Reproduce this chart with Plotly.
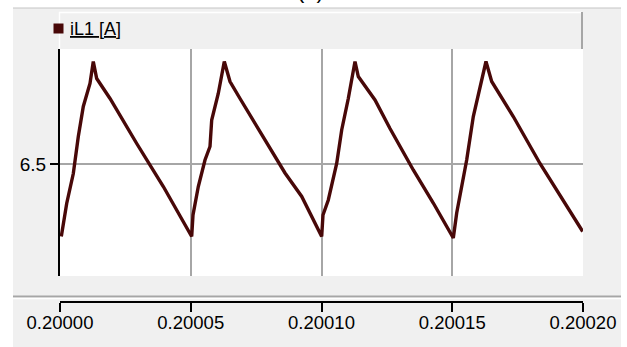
import plotly.graph_objects as go

W, H = 627, 347

# ---- data (time offsets in microseconds after t0 = 0.2 s, current in A) ----
T0 = 0.2
cycle1_us = [0.50, 2.56, 5.09, 7.00, 8.91, 11.47, 12.73, 14.03, 19.12, 29.33, 39.51, 45.89, 50.36]
cycle1_a = [6.355, 6.421, 6.481, 6.555, 6.615, 6.661, 6.705, 6.671, 6.631, 6.541, 6.455, 6.395, 6.355]
cycle2_us = [50.86, 52.89, 55.45, 57.36, 58.01, 60.53, 62.83, 65.01, 68.83, 73.80, 80.95, 86.04, 92.43, 100.07]
cycle2_a = [6.398, 6.455, 6.508, 6.535, 6.588, 6.641, 6.705, 6.665, 6.631, 6.588, 6.528, 6.482, 6.435, 6.355]
cycle3_us = [100.57, 102.60, 105.81, 107.72, 110.25, 112.81, 114.07, 120.46, 126.19, 135.10, 142.75, 150.40]
cycle3_a = [6.398, 6.428, 6.501, 6.568, 6.631, 6.705, 6.675, 6.628, 6.571, 6.488, 6.422, 6.352]
cycle4_us = [151.70, 155.52, 158.05, 162.90, 165.08, 173.34, 183.55, 192.46, 199.88]
cycle4_a = [6.402, 6.508, 6.595, 6.705, 6.665, 6.595, 6.501, 6.428, 6.365]

x_tickvals = [0.20000, 0.20005, 0.20010, 0.20015, 0.20020]
x_ticktext = ["0.20000", "0.20005", "0.20010", "0.20015", "0.20020"]
y_tickvals = [6.5]
y_ticktext = ["6.5"]
x_range = [0.20000, 0.20020]
y_range = [6.276, 6.730]
series_name = "iL1 [A]"

t_all = [T0 + u * 1e-6 for u in cycle1_us + cycle2_us + cycle3_us + cycle4_us]
i_all = cycle1_a + cycle2_a + cycle3_a + cycle4_a

LINE = "#480808"
GRID = "#a6a6a6"
PANEL = "#f0f0f0"
FONT = "Liberation Sans, Arial"


def px(x):
    return x / W


def py(y):
    return 1 - y / H


fig = go.Figure()
fig.add_trace(go.Scatter(x=t_all, y=i_all, mode="lines",
                         line=dict(color=LINE, width=3.4), showlegend=False,
                         xaxis="x", yaxis="y", name=series_name))
# invisible trace for the separate lower time axis
fig.add_trace(go.Scatter(x=x_range, y=[0, 0], mode="lines", line=dict(width=0),
                         showlegend=False, hoverinfo="skip", xaxis="x2", yaxis="y2"))

shapes = [
    dict(type="rect", xref="paper", yref="paper", x0=px(13), x1=px(621), y0=py(8), y1=py(347),
         fillcolor=PANEL, line=dict(width=0), layer="below"),
    dict(type="line", xref="paper", yref="paper", x0=px(13), x1=px(621), y0=py(8), y1=py(8),
         line=dict(color="#c4c4c4", width=1), layer="below"),
    dict(type="rect", xref="paper", yref="paper", x0=px(60), x1=px(583), y0=py(49), y1=py(276),
         fillcolor="white", line=dict(width=0), layer="below"),
    dict(type="line", xref="paper", yref="paper", x0=px(59), x1=px(582), y0=py(12.5), y1=py(12.5),
         line=dict(color="white", width=1.5), layer="below"),
    dict(type="line", xref="paper", yref="paper", x0=px(59.5), x1=px(59.5), y0=py(12), y1=py(49),
         line=dict(color="white", width=1.5), layer="below"),
    dict(type="line", xref="paper", yref="paper", x0=px(582), x1=px(582), y0=py(12), y1=py(49),
         line=dict(color=GRID, width=2), layer="below"),
    dict(type="line", xref="paper", yref="paper", x0=px(13), x1=px(621), y0=py(296.5), y1=py(296.5),
         line=dict(color=GRID, width=2), layer="below"),
    dict(type="line", xref="paper", yref="paper", x0=px(13), x1=px(621), y0=py(298.5), y1=py(298.5),
         line=dict(color="white", width=1.5), layer="below"),
    dict(type="rect", xref="paper", yref="paper", x0=px(53.5), x1=px(63.5), y0=py(23.5), y1=py(33.5),
         fillcolor=LINE, line=dict(width=0), layer="above"),
]

annotations = [
    dict(text="<u>" + series_name + "</u>", xref="paper", yref="paper", x=px(68), y=py(29),
         xanchor="left", yanchor="middle", showarrow=False,
         font=dict(family=FONT, size=18, color="black")),
    dict(text="(a)", xref="paper", yref="paper", x=px(310), y=py(5), xanchor="center", yanchor="bottom",
         showarrow=False, font=dict(family=FONT, size=22, color="black")),
]

fig.update_layout(
    width=W, height=H,
    margin=dict(l=0, r=0, t=0, b=0, pad=0, autoexpand=False),
    paper_bgcolor="white",
    plot_bgcolor="rgba(0,0,0,0)",
    showlegend=False,
    shapes=shapes,
    annotations=annotations,
    xaxis=dict(domain=[px(60), px(583)], range=x_range, anchor="y", automargin=False,
               tickvals=x_tickvals, showticklabels=False, ticks="",
               showgrid=True, gridcolor=GRID, gridwidth=2, zeroline=False, showline=False),
    yaxis=dict(domain=[py(276), py(49)], range=y_range, anchor="x", automargin=False,
               tickvals=y_tickvals, ticktext=y_ticktext, ticks="outside", ticklen=8,
               tickwidth=2, tickcolor="black",
               tickfont=dict(family=FONT, size=19, color="black"),
               showgrid=True, gridcolor=GRID, gridwidth=2, zeroline=False,
               showline=True, linecolor="black", linewidth=2),
    xaxis2=dict(domain=[px(60), px(583)], range=x_range, anchor="y2", automargin=False,
                tickvals=x_tickvals, ticktext=x_ticktext, ticks="outside", ticklen=9,
                tickwidth=2, tickcolor="black", ticklabelstandoff=-5,
                tickfont=dict(family=FONT, size=18.5, color="black"),
                showgrid=False, zeroline=False, showline=True, linecolor="black", linewidth=2),
    yaxis2=dict(domain=[py(301), py(295)], range=[0, 1], anchor="x2", visible=False, automargin=False),
)

fig.write_html("out.html", config={"displayModeBar": False},
               post_script="document.body.style.margin='0px';document.body.style.overflow='hidden';")
